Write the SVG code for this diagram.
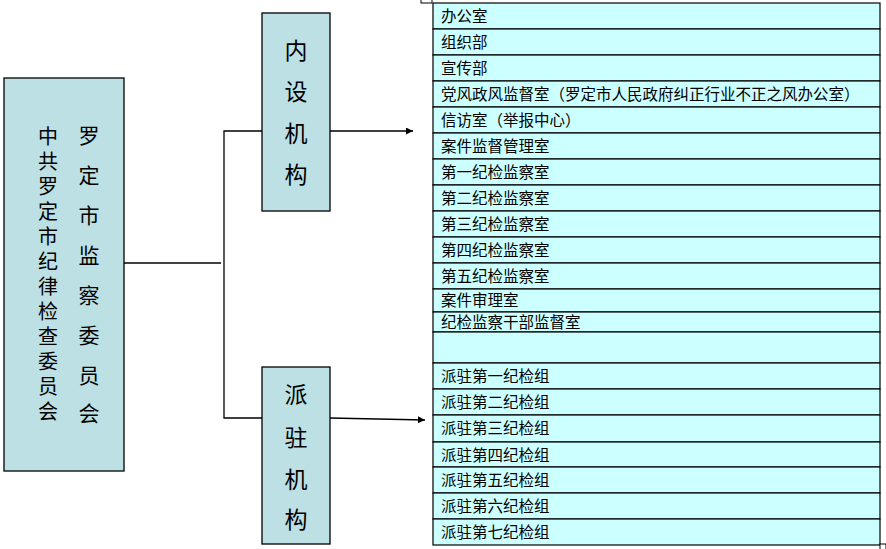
<svg xmlns="http://www.w3.org/2000/svg" width="886" height="549" viewBox="0 0 886 549">
<style>
.box{fill:#BCE0E4;stroke:#000;stroke-width:1.3}
.cell{fill:#CCFFFF;stroke:#000;stroke-width:1.2}
.t{font-family:"Noto Sans CJK SC","Noto Sans",sans-serif;fill:#000}
.big{font-size:21px;text-anchor:middle}
.vert{font-size:20px;writing-mode:vertical-rl;letter-spacing:5px}
.mid{font-size:23px;text-anchor:middle}
.row{font-size:15.5px}
.ln{fill:none;stroke:#000;stroke-width:1.3}
</style>
<defs>
<marker id="ah" viewBox="0 0 10 10" refX="10" refY="5" markerWidth="9" markerHeight="7" markerUnits="userSpaceOnUse" orient="auto">
<path d="M0,0 L10,5 L0,10 z" fill="#000"/>
</marker>
</defs>
<rect width="886" height="549" fill="#fff"/>

<g id="connectors">
<line class="ln" x1="124" y1="263" x2="221" y2="263"/>
<polyline class="ln" points="262,131 224,131 224,418 262,418"/>
<line class="ln" x1="330" y1="131" x2="413" y2="131" marker-end="url(#ah)"/>
<line class="ln" x1="330" y1="418" x2="425" y2="420" marker-end="url(#ah)"/>
</g>

<g id="node-committee">
<rect class="box" x="4" y="78" width="120" height="393"/>
<text class="t vert" x="48" y="126">中共罗定市纪律检查委员会</text>
<text class="t big">
<tspan x="89" y="143">罗</tspan><tspan x="89" y="183">定</tspan><tspan x="89" y="223">市</tspan><tspan x="89" y="263">监</tspan><tspan x="89" y="303">察</tspan><tspan x="89" y="343">委</tspan><tspan x="89" y="383">员</tspan><tspan x="89" y="421">会</tspan>
</text>
</g>

<g id="node-internal">
<rect class="box" x="262" y="13" width="68" height="198"/>
<text class="t mid">
<tspan x="296" y="59">内</tspan><tspan x="296" y="100">设</tspan><tspan x="296" y="142">机</tspan><tspan x="296" y="183">构</tspan>
</text>
</g>

<g id="node-dispatched">
<rect class="box" x="262" y="367" width="68" height="177"/>
<text class="t mid">
<tspan x="296" y="403">派</tspan><tspan x="296" y="446">驻</tspan><tspan x="296" y="488">机</tspan><tspan x="296" y="528">构</tspan>
</text>
</g>

<g id="node-departments">
<rect x="421" y="-4" width="11" height="7" fill="#fff" stroke="#000" stroke-width="1"/>
<rect class="cell" x="433" y="3" width="447" height="26"/>
<rect class="cell" x="433" y="29" width="447" height="26"/>
<rect class="cell" x="433" y="55" width="447" height="26"/>
<rect class="cell" x="433" y="81" width="447" height="26"/>
<rect class="cell" x="433" y="107" width="447" height="26"/>
<rect class="cell" x="433" y="133" width="447" height="26"/>
<rect class="cell" x="433" y="159" width="447" height="26"/>
<rect class="cell" x="433" y="185" width="447" height="26"/>
<rect class="cell" x="433" y="211" width="447" height="26"/>
<rect class="cell" x="433" y="237" width="447" height="26"/>
<rect class="cell" x="433" y="263" width="447" height="26"/>
<rect class="cell" x="433" y="289" width="447" height="23"/>
<rect class="cell" x="433" y="312" width="447" height="20"/>
<rect class="cell" x="433" y="332" width="447" height="31"/>
<rect class="cell" x="433" y="363" width="447" height="26"/>
<rect class="cell" x="433" y="389" width="447" height="26"/>
<rect class="cell" x="433" y="415" width="447" height="27"/>
<rect class="cell" x="433" y="442" width="447" height="25"/>
<rect class="cell" x="433" y="467" width="447" height="26"/>
<rect class="cell" x="433" y="493" width="447" height="26"/>
<rect class="cell" x="433" y="519" width="447" height="26"/>
<rect x="880" y="544" width="6" height="6" fill="#fff" stroke="#000" stroke-width="1"/>
<text class="t row" x="441" y="22">办公室</text>
<text class="t row" x="441" y="48">组织部</text>
<text class="t row" x="441" y="74">宣传部</text>
<text class="t row" x="441" y="100">党风政风监督室（罗定市人民政府纠正行业不正之风办公室）</text>
<text class="t row" x="441" y="126">信访室（举报中心）</text>
<text class="t row" x="441" y="152">案件监督管理室</text>
<text class="t row" x="441" y="178">第一纪检监察室</text>
<text class="t row" x="441" y="204">第二纪检监察室</text>
<text class="t row" x="441" y="230">第三纪检监察室</text>
<text class="t row" x="441" y="256">第四纪检监察室</text>
<text class="t row" x="441" y="282">第五纪检监察室</text>
<text class="t row" x="441" y="306">案件审理室</text>
<text class="t row" x="441" y="328">纪检监察干部监督室</text>
<text class="t row" x="441" y="382">派驻第一纪检组</text>
<text class="t row" x="441" y="408">派驻第二纪检组</text>
<text class="t row" x="441" y="434">派驻第三纪检组</text>
<text class="t row" x="441" y="461">派驻第四纪检组</text>
<text class="t row" x="441" y="486">派驻第五纪检组</text>
<text class="t row" x="441" y="512">派驻第六纪检组</text>
<text class="t row" x="441" y="538">派驻第七纪检组</text>
</g>
</svg>
